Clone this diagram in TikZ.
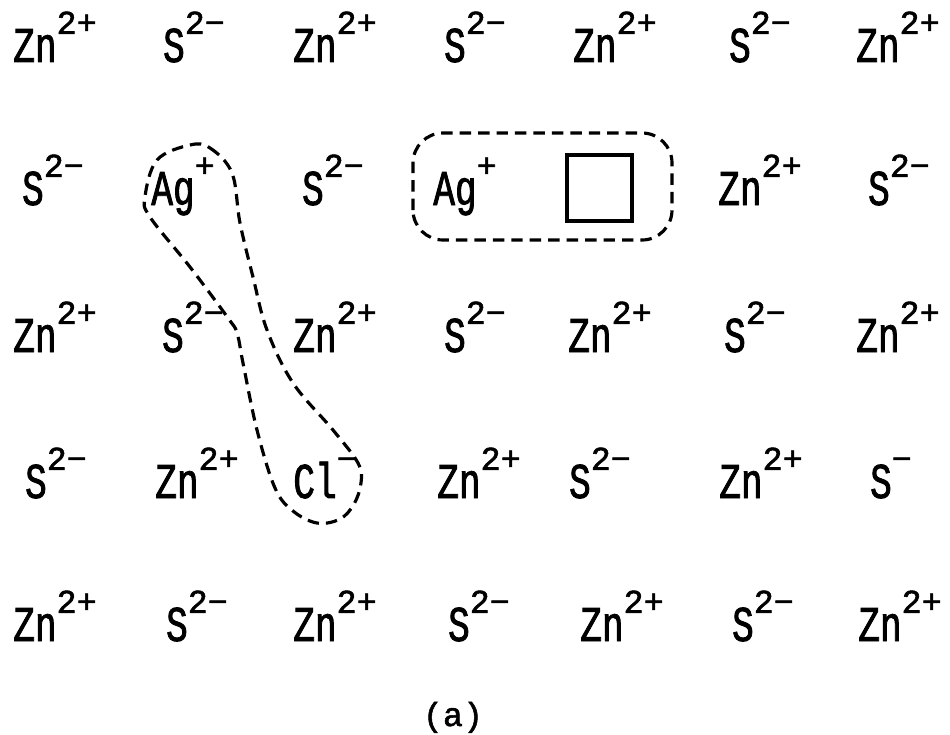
\documentclass[tikz,border=0pt]{standalone}
\usepackage{fontspec}
\setmainfont{Liberation Mono}[FakeStretch=0.72, FakeBold=1.6]
\newfontfamily\supfont{Liberation Mono}[FakeBold=1.6]
\usepackage{tikz}
\usetikzlibrary{calc}
\newcommand{\chg}[2]{#1\raisebox{16pt}{\fontsize{19}{19}\supfont #2}}

\begin{document}
\begin{tikzpicture}[
  font=\fontsize{28.5}{30}\selectfont,
  ion/.style={anchor=base, inner sep=0pt},
  vacancy/.style={draw, line width=2.2pt, minimum width=1.30cm, minimum height=1.32cm, inner sep=0pt},
  ring/.style={draw, line width=1.8pt, dash pattern=on 6.5pt off 4pt, line join=round},
]
\useasboundingbox (0,0) rectangle (19,14.68);

% ---- row 1 ----
\node[ion] (i11) at (1.10,13.44)  {\chg{Zn}{2+}};
\node[ion] (i12) at (3.88,13.44)  {\chg{S}{2−}};
\node[ion] (i13) at (6.70,13.44)  {\chg{Zn}{2+}};
\node[ion] (i14) at (9.50,13.44)  {\chg{S}{2−}};
\node[ion] (i15) at (12.30,13.44) {\chg{Zn}{2+}};
\node[ion] (i16) at (15.20,13.44) {\chg{S}{2−}};
\node[ion] (i17) at (17.96,13.44) {\chg{Zn}{2+}};

% ---- row 2: the two Ag+ and the empty site ----
\node[ion] (i21) at (1.06,10.58)  {\chg{S}{2−}};
\node[ion] (i22) at (3.66,10.58)  {\chg{Ag}{+}};
\node[ion] (i23) at (6.66,10.58)  {\chg{S}{2−}};
\node[ion] (i24) at (9.30,10.58)  {\chg{Ag}{+}};
\node[vacancy] (i25) at (11.99,10.92) {};
\node[ion] (i26) at (15.20,10.58) {\chg{Zn}{2+}};
\node[ion] (i27) at (17.98,10.58) {\chg{S}{2−}};

% ---- row 3 ----
\node[ion] (i31) at (1.10,7.64)   {\chg{Zn}{2+}};
\node[ion] (i32) at (3.86,7.64)   {\chg{S}{2−}};
\node[ion] (i33) at (6.70,7.64)   {\chg{Zn}{2+}};
\node[ion] (i34) at (9.50,7.64)   {\chg{S}{2−}};
\node[ion] (i35) at (12.20,7.64)  {\chg{Zn}{2+}};
\node[ion] (i36) at (15.10,7.64)  {\chg{S}{2−}};
\node[ion] (i37) at (17.96,7.64)  {\chg{Zn}{2+}};

% ---- row 4: Cl- sits on an S site ----
\node[ion] (i41) at (1.12,4.72)   {\chg{S}{2−}};
\node[ion] (i42) at (3.94,4.72)   {\chg{Zn}{2+}};
\node[ion] (i43) at (6.50,4.72)   {\chg{Cl}{−}};
\node[ion] (i44) at (9.58,4.72)   {\chg{Zn}{2+}};
\node[ion] (i45) at (12.00,4.72)  {\chg{S}{2−}};
\node[ion] (i46) at (15.22,4.72)  {\chg{Zn}{2+}};
\node[ion] (i47) at (17.82,4.72)  {\chg{S}{−}};

% ---- row 5 ----
\node[ion] (i51) at (1.10,1.86)   {\chg{Zn}{2+}};
\node[ion] (i52) at (3.94,1.86)   {\chg{S}{2−}};
\node[ion] (i53) at (6.70,1.86)   {\chg{Zn}{2+}};
\node[ion] (i54) at (9.58,1.86)   {\chg{S}{2−}};
\node[ion] (i55) at (12.44,1.86)  {\chg{Zn}{2+}};
\node[ion] (i56) at (15.26,1.86)  {\chg{S}{2−}};
\node[ion] (i57) at (18.00,1.86)  {\chg{Zn}{2+}};

% ---- the two associated pairs ----
\draw[ring] plot[smooth cycle, tension=0.6] coordinates {
  (3.80,11.78) (4.20,11.72) (4.64,11.22) (4.80,10.22) (5.06,9.14) (5.34,8.08)
  (5.86,7.02) (6.66,6.08) (7.16,5.42) (7.22,5.02) (7.08,4.60) (6.80,4.30)
  (6.34,4.22) (5.86,4.46) (5.50,4.92) (5.14,6.08) (4.86,7.42) (4.74,8.02)
  (4.56,8.32) (3.80,9.34) (3.00,10.34) (2.90,10.74) (3.14,11.48)};
\draw[ring, rounded corners=0.6cm] (8.26,9.88) rectangle (13.44,12.02);

\node[ion, font=\fontsize{19}{20}\supfont] (cap) at (9.06,0.16) {(a)};
\end{tikzpicture}
\end{document}
